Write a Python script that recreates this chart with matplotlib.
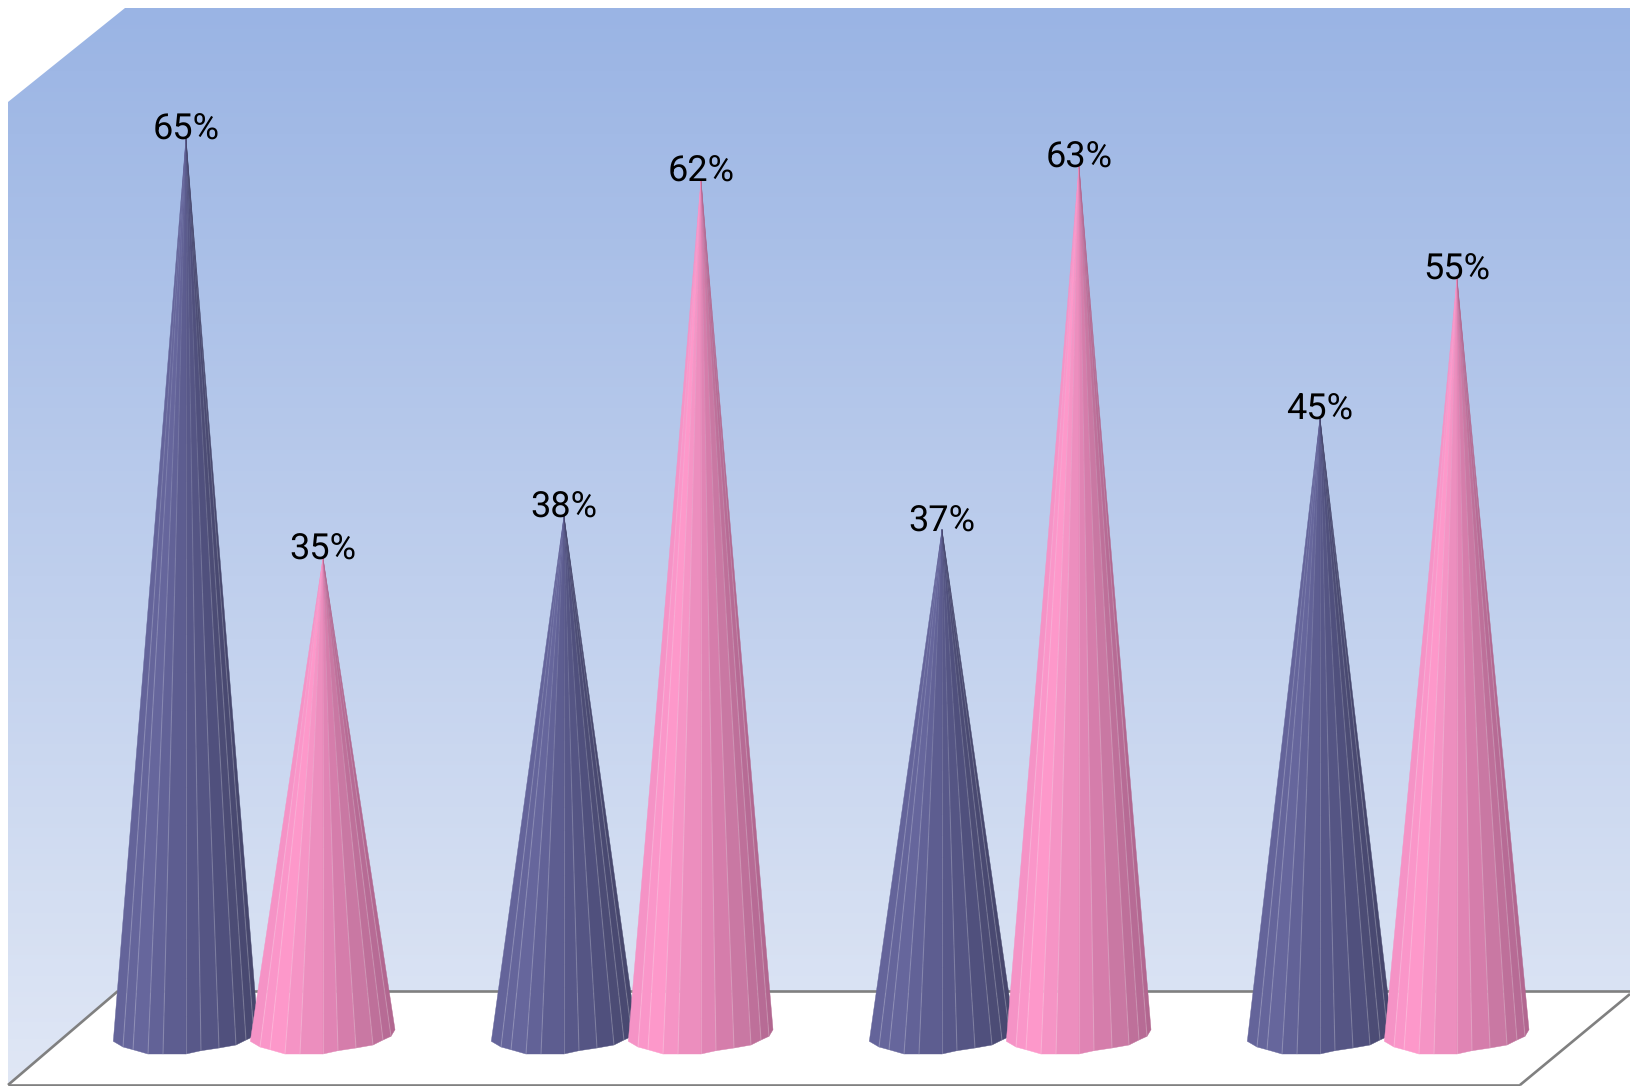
import numpy as np
import matplotlib
matplotlib.use("Agg")
import matplotlib.pyplot as plt

from matplotlib.collections import LineCollection
from matplotlib.colors import LinearSegmentedColormap
from matplotlib.patches import Polygon

# one value pair per group, the chart has no axis labels
GROUPS = [0, 1, 2, 3]
NAVY_VALUES = [65, 38, 37, 45]
PINK_VALUES = [35, 62, 63, 55]

WIDTH, HEIGHT = 1630, 1086
PX_PER_GROUP = 378
PX_PER_PERCENT = 14.0
FIRST_GROUP_PX = 254.5
ZERO_PX = 1047.5
BAR_OFFSET_PX = 68.5

# outline of the faceted cone base, pixels from the apex x / above the zero line
BASE_DX = [-72.7, -63, -53, -38, -23, 0, 15, 33, 50, 60, 68, 72]
BASE_DY = [6.2, 0.5, -2.2, -6.5, -6.5, -6.5, -3.2, -0.5, 2.5, 7.5, 11.2, 17.8]

NAVY_CMAP = LinearSegmentedColormap.from_list(
    "navy", [(0, "#64649A"), (0.2, "#66669C"), (0.5, "#5A5A8C"), (0.75, "#525280"), (1, "#46466C")])
PINK_CMAP = LinearSegmentedColormap.from_list(
    "pink", [(0, "#F291C4"), (0.15, "#FF99CC"), (0.4, "#EE90C0"), (0.6, "#DC80B0"),
             (0.8, "#C877A2"), (1, "#B0668F")])

plt.rcParams["text.hinting"] = "no_hinting"


def draw_backdrop(ax):
    wall = Polygon([(8, 102), (125, 8), (WIDTH, 8), (WIDTH, 991), (118, 991), (8, 1085)],
                   closed=True, transform=ax.transData, facecolor="none", edgecolor="none")
    ax.add_patch(wall)

    gradient = LinearSegmentedColormap.from_list("wall", ["#9AB4E4", "#E0E7F5"])
    image = ax.imshow(np.linspace(0, 1, 256).reshape(-1, 1), cmap=gradient, aspect="auto",
                      extent=(0, WIDTH, 1085, 8), zorder=1)
    image.set_clip_path(wall)

    floor = [(118, 991), (WIDTH, 991), (WIDTH, 993), (1520, 1085), (8, 1085)]
    ax.add_patch(Polygon(floor, closed=True, facecolor="white", edgecolor="none", zorder=2))

    line = dict(color="#808080", lw=1.9, zorder=3, solid_capstyle="butt")
    ax.plot([118, WIDTH], [991, 991], **line)
    ax.plot([8, 118], [1085, 991], **line)
    ax.plot([8, 1520], [1085, 1085], **line)
    ax.plot([1520, WIDTH], [1085, 994], **line)


def draw_cone(ax, x, value, cmap, zorder):
    dx = np.array(BASE_DX)
    base_x = x + dx / PX_PER_GROUP
    base_y = np.array(BASE_DY) / PX_PER_PERCENT

    for i in range(len(base_x) - 1):
        # shade by where the facet sits across the cone, not by its index
        shade = cmap((dx[i] + dx[i + 1]) / 2 / 145 + 0.5)
        ax.add_patch(Polygon([(x, value), (base_x[i], base_y[i]), (base_x[i + 1], base_y[i + 1])],
                             closed=True, facecolor=shade, edgecolor=shade, lw=0.3, zorder=zorder))

    # seams fade out towards the apex, otherwise they pile up into a pale tip
    steps = np.linspace(0, 1, 25)
    for i in range(1, len(base_x) - 1):
        seam_x = x + (base_x[i] - x) * steps
        seam_y = value + (base_y[i] - value) * steps
        points = np.column_stack([seam_x, seam_y])
        segments = np.stack([points[:-1], points[1:]], axis=1)
        colors = [(1, 1, 1, min(s / 0.6, 1) * 0.2) for s in steps[:-1]]
        ax.add_collection(LineCollection(segments, colors=colors, linewidths=0.8,
                                         capstyle="butt", zorder=zorder + 0.1))

    ax.text(x, value - 0.15, f"{value}%", ha="center", va="baseline", fontsize=26,
            family="Roboto", color="black", zorder=20)


def main():
    fig = plt.figure(figsize=(WIDTH / 100, HEIGHT / 100), dpi=100, facecolor="white")

    back = fig.add_axes([0, 0, 1, 1])
    back.set_xlim(0, WIDTH)
    back.set_ylim(HEIGHT, 0)
    back.axis("off")
    draw_backdrop(back)
    back.set_xlim(0, WIDTH)
    back.set_ylim(HEIGHT, 0)

    # value axes: x in groups, y in percent, lined up with the floor of the backdrop
    ax = fig.add_axes([0, 0, 1, 1], facecolor="none")
    ax.set_xlim(-FIRST_GROUP_PX / PX_PER_GROUP, (WIDTH - FIRST_GROUP_PX) / PX_PER_GROUP)
    ax.set_ylim((ZERO_PX - HEIGHT) / PX_PER_PERCENT, ZERO_PX / PX_PER_PERCENT)
    ax.axis("off")

    offset = BAR_OFFSET_PX / PX_PER_GROUP
    for group, navy, pink in zip(GROUPS, NAVY_VALUES, PINK_VALUES):
        draw_cone(ax, group - offset, navy, NAVY_CMAP, 5)
        draw_cone(ax, group + offset, pink, PINK_CMAP, 6)

    fig.savefig("out.png", dpi=100)


if __name__ == "__main__":
    main()
